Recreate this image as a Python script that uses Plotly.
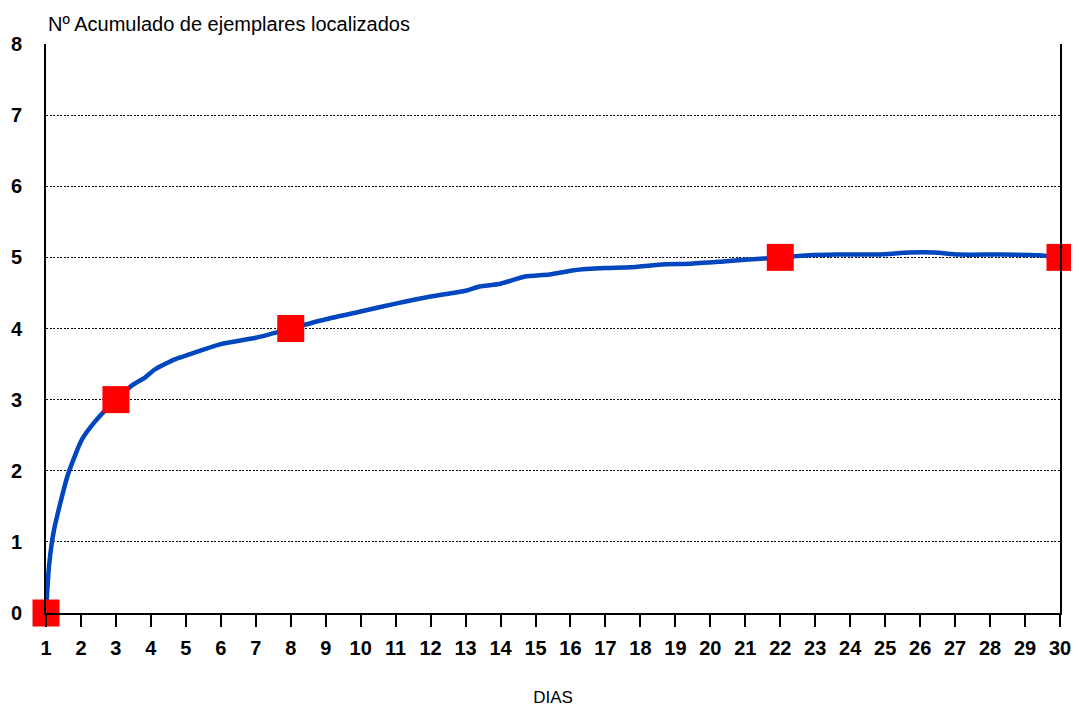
import plotly.graph_objects as go

# Smoothed curve
curve_days = [1, 1.09, 1.23, 1.63, 2.03, 2.4, 3, 3.49, 3.83, 4.1, 4.4, 4.7, 5, 6, 7, 8, 9, 10, 11, 12, 13,
              13.4, 14, 14.7, 15.4, 16.1, 17, 17.7, 18.6, 19.4, 20.3, 21.1, 22, 22.8, 23.6, 24.8, 25.7,
              26.4, 27.1, 28.3, 29.4, 30]
curve_vals = [0, 0.68, 1.17, 1.95, 2.44, 2.69, 3.0, 3.21, 3.31, 3.42, 3.5, 3.57, 3.62, 3.78, 3.87, 4.0, 4.13,
              4.24, 4.35, 4.45, 4.53, 4.59, 4.63, 4.73, 4.76, 4.82, 4.85, 4.86, 4.9, 4.91, 4.94, 4.97, 5.0,
              5.03, 5.04, 5.04, 5.07, 5.07, 5.04, 5.04, 5.03, 5.0]

# Observed points
obs_days = [1, 3, 8, 22, 30]
obs_vals = [0, 3, 4, 5, 5]

x_ticks = list(range(1, 31))
y_ticks = list(range(0, 9))

fig = go.Figure()
fig.add_trace(go.Scatter(x=curve_days, y=curve_vals, mode="lines",
                         line=dict(color="#0046BE", width=4.5, shape="spline", smoothing=0.6),
                         hoverinfo="skip", showlegend=False, cliponaxis=False))
fig.add_trace(go.Scatter(x=obs_days, y=obs_vals, mode="markers",
                         marker=dict(symbol="square", color="#FF0000", size=27, line=dict(width=0)),
                         showlegend=False, cliponaxis=False))

tickfont = dict(family="Liberation Sans, Arial, sans-serif", size=20, color="black", weight="bold")
textfont = "Liberation Sans, Arial, sans-serif"

# page body has an 8px margin: compensate so the plot area sits at the reference position
fig.update_layout(
    width=1071, height=708,
    margin=dict(l=38, r=19, t=36, b=103),
    plot_bgcolor="white", paper_bgcolor="white",
    xaxis=dict(range=[1, 30], tickvals=x_ticks, ticktext=[str(v) for v in x_ticks],
               showgrid=False, zeroline=False, showline=True, linecolor="black", linewidth=2,
               ticks="outside", ticklen=12, tickwidth=2, tickcolor="black",
               tickfont=tickfont, automargin=False, ticklabelstandoff=4,
               title=dict(text="DIAS", font=dict(family=textfont, size=17, color="black"),
                          standoff=33)),
    yaxis=dict(range=[0, 8], tickvals=y_ticks, ticktext=[str(v) for v in y_ticks],
               showgrid=True, gridcolor="black", gridwidth=1.2, griddash="2px,1.5px",
               zeroline=False, showline=True, linecolor="black", linewidth=2, mirror=True,
               ticks="", tickfont=tickfont, ticklabelstandoff=18, automargin=False),
    annotations=[dict(text="Nº Acumulado de ejemplares localizados", xref="paper", yref="paper",
                      x=0, y=1, xanchor="left", yanchor="bottom", yshift=7, showarrow=False,
                      font=dict(family=textfont, size=20, color="black"))],
)

fig.write_html("out.html")
